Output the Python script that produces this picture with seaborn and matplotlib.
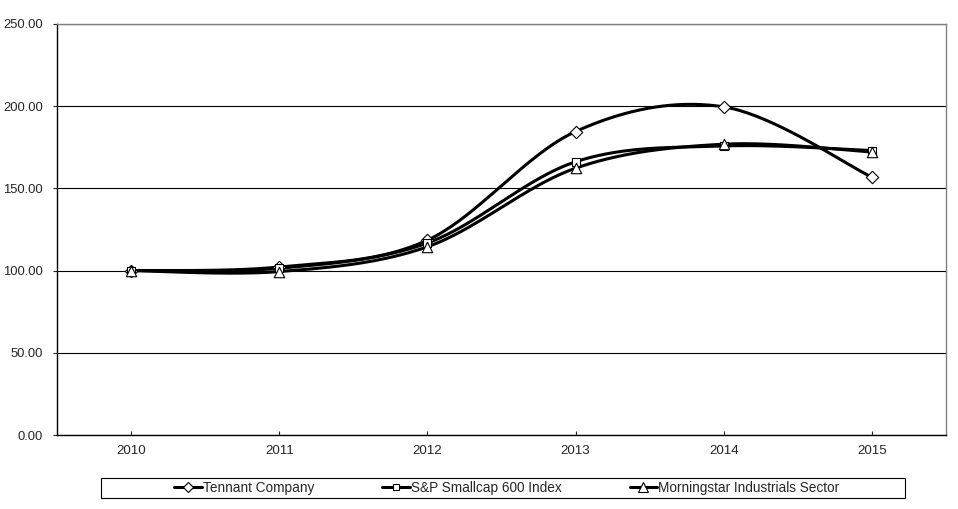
import numpy as np
import pandas as pd
import seaborn as sns
import matplotlib.pyplot as plt
from matplotlib.lines import Line2D
from matplotlib.patches import Rectangle

years = ['2010', '2011', '2012', '2013', '2014', '2015']
tennant = [100.0, 102.2, 118.5, 184.6, 199.6, 156.8]
sp600 = [100.0, 101.4, 116.8, 166.2, 175.8, 173.0]
morningstar = [100.0, 99.4, 114.5, 162.3, 176.9, 172.1]

series_names = ['Tennant Company', 'S&P Smallcap 600 Index', 'Morningstar Industrials Sector']
series_values = [tennant, sp600, morningstar]
series_markers = ['D', 's', '^']
marker_sizes = [6.3, 6.0, 7.5]


def smooth_curve(y, steps=40):
    # excel style smoothed line (catmull-rom bezier)
    pts = np.column_stack([np.arange(len(y)), np.asarray(y, dtype=float)])
    out = []
    for i in range(len(pts) - 1):
        p0 = pts[max(i - 1, 0)]
        p1 = pts[i]
        p2 = pts[i + 1]
        p3 = pts[min(i + 2, len(pts) - 1)]
        c1 = p1 + (p2 - p0) / 6
        c2 = p2 - (p3 - p1) / 6
        t = np.linspace(0, 1, steps)[:, None]
        seg = ((1 - t) ** 3) * p1 + 3 * ((1 - t) ** 2) * t * c1 + 3 * (1 - t) * t ** 2 * c2 + t ** 3 * p2
        out.append(seg)
    out = np.vstack(out)
    return out[:, 0], out[:, 1]


sns.set_style('white')
plt.rcParams['font.family'] = ['Liberation Sans', 'DejaVu Sans']

fig = plt.figure(figsize=(9.58, 5.09), dpi=100)
ax = fig.add_axes([57 / 958, 1 - 435 / 509, 889 / 958, 411 / 509])

rows = []
for name, vals in zip(series_names, series_values):
    for i, v in enumerate(vals):
        rows.append({'series': name, 'x': i, 'value': v})
df = pd.DataFrame(rows)

for name, vals in zip(series_names, series_values):
    xs, ys = smooth_curve(vals)
    ax.plot(xs, ys, color='black', lw=2.2, zorder=3, solid_capstyle='round')

for name, m, ms in zip(series_names, series_markers, marker_sizes):
    sub = df[df['series'] == name]
    sns.scatterplot(data=sub, x='x', y='value', marker=m, color='white',
                    edgecolor='black', linewidth=0.8, s=ms ** 2,
                    legend=False, ax=ax, zorder=4)

ax.set_xlim(-0.5, 5.5)
ax.set_ylim(0, 250)
ax.set_yticks(np.arange(0, 251, 50))
ax.set_yticklabels([f'{v:.2f}' for v in np.arange(0, 251, 50)])
ax.set_xticks(range(len(years)))
ax.set_xticklabels(years)
ax.set_xlabel('')
ax.set_ylabel('')
ax.yaxis.grid(True, color='black', lw=0.8)
ax.set_axisbelow(True)
ax.tick_params(axis='y', direction='out', length=3, width=0.8, pad=7, labelsize=9.4, left=True)
ax.tick_params(axis='x', direction='in', length=3, width=0.8, pad=7, labelsize=9.6, bottom=True)
for side in ['left', 'bottom']:
    ax.spines[side].set_color('black')
    ax.spines[side].set_linewidth(1.0)
for side in ['top', 'right']:
    ax.spines[side].set_color('#808080')
    ax.spines[side].set_linewidth(1.0)

fig.patches.append(Rectangle((101 / 958, 1 - 498 / 509), 804 / 958, 20 / 509,
                             transform=fig.transFigure, fill=False,
                             edgecolor='black', lw=0.8))
handles = [Line2D([0], [0], color='black', lw=2.2, marker=m, markersize=ms - 1,
                  markerfacecolor='white', markeredgecolor='black', markeredgewidth=0.8)
           for m, ms in zip(series_markers, marker_sizes)]
fig.legend(handles, series_names, loc='center', bbox_to_anchor=(507 / 958, 1 - 488 / 509),
           ncol=3, frameon=False, fontsize=9.8, handlelength=2.0, handletextpad=0.1,
           columnspacing=5.0)

fig.savefig('out.png', dpi=100)
